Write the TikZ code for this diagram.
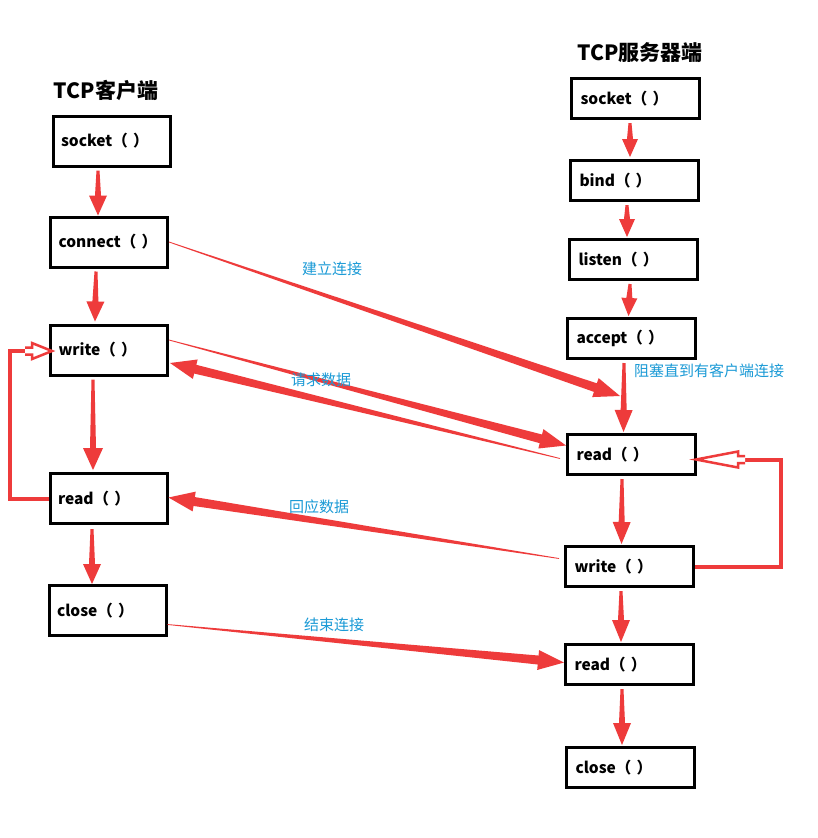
\documentclass[tikz,border=0pt]{standalone}
\usepackage{fontspec}
\newfontfamily\cjk{Noto Sans CJK SC}
\usetikzlibrary{calc}
\definecolor{ared}{HTML}{EE3B3B}
\definecolor{lblue}{HTML}{1A9AD6}
% tapered arrow: from, to, half width at start, half width at head base, half head width, head length
\newcommand\tarr[6]{%
  \coordinate (tA) at (#1);
  \coordinate (tB) at (#2);
  \coordinate (tH) at ($(tB)!#6!(tA)$);
  \fill[ared] ($(tA)!#3!90:(tB)$) -- ($(tH)!#4!90:(tB)$) -- ($(tH)!#5!90:(tB)$) -- (tB)
    -- ($(tH)!#5!-90:(tB)$) -- ($(tH)!#4!-90:(tB)$) -- ($(tA)!#3!-90:(tB)$) -- cycle;}
\begin{document}
\begin{tikzpicture}[x=1pt,y=-1pt,
  cbox/.style={draw=black,line width=3pt,minimum width=117pt,minimum height=50pt,
    text width=101pt,inner xsep=8pt,align=left,font=\cjk\bfseries\fontsize{15.5}{17}\selectfont},
  sbox/.style={draw=black,line width=3pt,minimum width=128pt,minimum height=40pt,
    text width=110pt,inner xsep=9pt,align=left,font=\cjk\bfseries\fontsize{15.5}{17}\selectfont},
  ttl/.style={font=\cjk\bfseries\fontsize{21}{23}\selectfont},
  lbl/.style={text=lblue,font=\cjk\fontsize{15}{17}\selectfont},
  loop/.style={draw=ared,line width=4pt},
  hollow/.style={draw=ared,line width=2.5pt,fill=white,line join=miter}]
\useasboundingbox (0,0) rectangle (818,838);
\fill[white] (0,0) rectangle (818,838);
% titles
\node[ttl] (tc) at (106,90) {TCP客户端};
\node[ttl] (st) at (640,53) {TCP服务器端};
% client boxes
\node[cbox] (cs) at (111.5,141) {socket（ ）};
\node[cbox] (cc) at (109,242) {connect（ ）};
\node[cbox] (cw) at (109,350) {write（ ）};
\node[cbox] (cr) at (108.5,498.5) {read（ ）};
\node[cbox] (ccl) at (107.5,610.5) {close（ ）};
% server boxes
\node[sbox] (ss) at (635.5,98.5) {socket（ ）};
\node[sbox] (sb) at (634.5,180.5) {bind（ ）};
\node[sbox] (sl) at (633.5,259.5) {listen（ ）};
\node[sbox] (sa) at (631.5,338.5) {accept（ ）};
\node[sbox] (sr) at (631.5,454.5) {read（ ）};
\node[sbox] (sw) at (629.5,566.5) {write（ ）};
\node[sbox] (sr2) at (629.5,664.5) {read（ ）};
\node[sbox] (scl) at (630.5,767.5) {close（ ）};
% client vertical arrows
\tarr{$(cs.south)+(-13.5,3)$}{$(cc.north)+(-11,0)$}{1.5pt}{3pt}{9pt}{20pt}
\tarr{$(cc.south)+(-13,3)$}{$(cw.north)+(-14,-2)$}{1.5pt}{3pt}{9pt}{20pt}
\tarr{$(cw.south)+(-16,3)$}{$(cr.north)+(-15.5,-2)$}{1.5pt}{3pt}{10pt}{22pt}
\tarr{$(cr.south)+(-16.5,4)$}{$(ccl.north)+(-15.5,0)$}{1.5pt}{3pt}{9pt}{20pt}
% server vertical arrows
\tarr{$(ss.south)+(-5.5,3)$}{$(sb.north)+(-4.5,-2)$}{1.5pt}{3pt}{8pt}{18pt}
\tarr{$(sb.south)+(-7.5,3)$}{$(sl.north)+(-6.5,-1)$}{1.5pt}{3pt}{8pt}{18pt}
\tarr{$(sl.south)+(-3.5,3)$}{$(sa.north)+(-3,-1)$}{1.5pt}{3pt}{8pt}{18pt}
\tarr{$(sa.south)+(-7.5,3)$}{$(sr.north)+(-8,-1)$}{1.5pt}{3pt}{9pt}{22pt}
\tarr{$(sr.south)+(-9.5,3)$}{$(sw.north)+(-8,-1)$}{1.5pt}{3pt}{9pt}{22pt}
\tarr{$(sw.south)+(-8.5,3)$}{$(sr2.north)+(-8.5,-1)$}{1.5pt}{3pt}{9pt}{22pt}
\tarr{$(sr2.south)+(-7.5,3)$}{$(scl.north)+(-8.5,-1)$}{1.5pt}{3pt}{9pt}{22pt}
% diagonal arrows
\coordinate (blk) at ($(sa.south)+(-11.5,36)$);
\tarr{cc.east}{blk}{0.4pt}{4.5pt}{10pt}{26pt}
\tarr{$(cw.east)+(0,-10)$}{$(sr.west)+(0,-9)$}{0.4pt}{4.5pt}{10pt}{26pt}
\tarr{$(sr.west)+(-6,4)$}{$(cw.east)+(1,13)$}{0.4pt}{4.5pt}{10pt}{26pt}
\tarr{$(sw.west)+(-5,-8)$}{$(cr.east)+(0,-1)$}{0.4pt}{4.5pt}{10pt}{26pt}
\tarr{$(ccl.east)+(0,14)$}{$(sr2.west)+(0,-2)$}{0.4pt}{4.5pt}{10pt}{26pt}
% loops
\coordinate (cl1) at ($(cr.west)+(-39,0)$);
\coordinate (cl2) at ($(cw.west)+(-22,1)$);
\draw[loop] (cr.west) -- (cl1) |- (cl2);
\draw[hollow] ($(cl2)+(-2,-3.5)$) -- ($(cl2)+(5,-3.5)$) -- ($(cl2)+(5,-8)$) -- ($(cw.west)+(3,1)$)
  -- ($(cl2)+(5,8)$) -- ($(cl2)+(5,3.5)$) -- ($(cl2)+(-2,3.5)$);
\coordinate (sl1) at ($(sw.east)+(86,0)$);
\coordinate (sl2) at ($(sr.east)+(46,5)$);
\draw[loop] (sw.east) -- (sl1) |- (sl2);
\draw[hollow] ($(sl2)+(2,-3.5)$) -- ($(sl2)+(-5,-3.5)$) -- ($(sl2)+(-5,-8)$) -- ($(sr.east)+(-1,5)$)
  -- ($(sl2)+(-5,8)$) -- ($(sl2)+(-5,3.5)$) -- ($(sl2)+(2,3.5)$);
% labels
\node[lbl] (l1) at (332,269) {建立连接};
\node[lbl] (l2) at (321,380) {请求数据};
\node[lbl] (l3) at (319,507) {回应数据};
\node[lbl] (l4) at (334,625) {结束连接};
\node[lbl] (l5) at (709,371) {阻塞直到有客户端连接};
\end{tikzpicture}
\end{document}
